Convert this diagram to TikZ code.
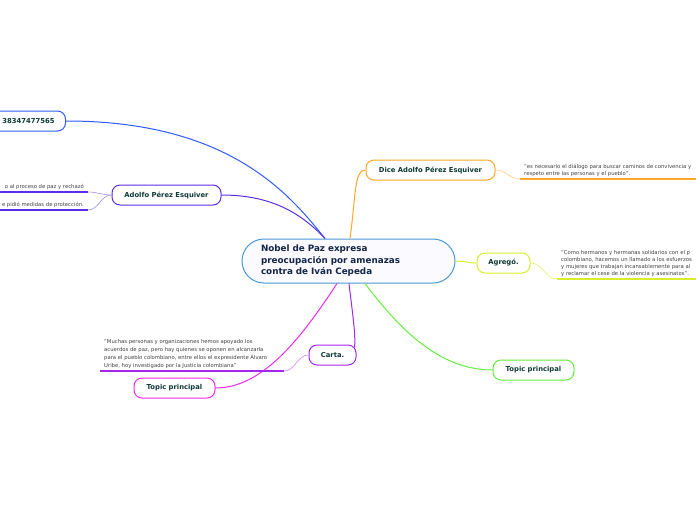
\documentclass[tikz,border=0pt]{standalone}
\usepackage{fontspec}
\setmainfont{DejaVu Sans}
\usetikzlibrary{calc}
\definecolor{azulCen}{HTML}{4A9AD8}
\definecolor{azulRama}{HTML}{2F5BFF}
\definecolor{violeta}{HTML}{5A2EE8}
\definecolor{naranja}{HTML}{FFA726}
\definecolor{limon}{HTML}{D8EE2A}
\definecolor{verde}{HTML}{62EE3C}
\definecolor{morado}{HTML}{A526EE}
\definecolor{magenta}{HTML}{EE2AEE}
\definecolor{TextoNodo}{HTML}{0E3A36}
\definecolor{TextoCen}{HTML}{15254A}

\begin{document}
\begin{tikzpicture}[x=1pt,y=-1pt,
        topic/.style={draw,rounded corners=8pt,line width=1.0pt,fill=white,
          minimum height=20pt,inner sep=0pt,text=TextoNodo,
          font=\fontsize{6.8}{8}\selectfont\bfseries},
        rama/.style={line width=1.0pt},
        sub/.style={line width=0.6pt},
        linea/.style={line width=1.6pt},
        cita/.style={font=\fontsize{5.3}{7}\selectfont,text=black!75,
          align=left,inner sep=0pt,anchor=south west}
      ]
        \useasboundingbox (0,0) rectangle (696,520);

        % Nodo central
        \node[draw=azulCen,line width=1.0pt,fill=blue!2,rounded corners=22pt,
          minimum width=213pt,minimum height=44pt,text width=175pt,align=left,
          text=TextoCen,font=\fontsize{8.8}{11.5}\selectfont\bfseries]
          (cen) at (348.5,261)
          {Nobel de Paz expresa\\preocupación por amenazas\\contra de Iván Cepeda};

        % Ramas
        \node[topic,draw=azulRama,anchor=east,inner xsep=11pt] (tel) at (66,121)
          {38347477565};
        \node[topic,draw=violeta,minimum width=109pt] (ape) at (166.5,195)
          {Adolfo Pérez Esquiver};
        \node[topic,draw=naranja,minimum width=129pt] (dice) at (430.5,170)
          {Dice Adolfo Pérez Esquiver};
        \node[topic,draw=limon,minimum width=53pt] (agr) at (503.5,263)
          {Agregó.};
        \node[topic,draw=verde,minimum width=81pt] (tpv) at (533.5,370)
          {Topic principal};
        \node[topic,draw=morado,minimum width=47pt] (carta) at (332.5,355)
          {Carta.};
        \node[topic,draw=magenta,minimum width=81pt] (tpm) at (174.5,388)
          {Topic principal};

        \draw[rama,azulRama] (tel.east) .. controls (230,121) and (290,195)
          .. ($(cen.north)+(-23.5,0)$);
        \draw[rama,violeta] (ape.east) .. controls (270,195) and (300,212)
          .. ($(cen.north)+(-23.5,0)$);
        \draw[rama,naranja] ($(cen.north)+(1.5,0)$) .. controls (356,195) and (354,170)
          .. (dice.west);
        \draw[rama,limon] (cen.east) .. controls (465,261) and (467,263) .. (agr.west);
        \draw[rama,verde] ($(cen.south)+(16.5,0)$) .. controls (400,330) and (440,370)
          .. (tpv.west);
        \draw[rama,morado] ($(cen.south)+(0.5,0)$) .. controls (352,310) and (356,335)
          .. ($(carta.north east)+(-2,3)$);
        \draw[rama,magenta] ($(cen.south)+(-11.5,0)$) .. controls (300,340) and (262,388)
          .. (tpm.east);

        % Citas y subtemas
        \coordinate (a1) at (88,192);
        \coordinate (a2) at (88,210);
        \draw[linea,violeta] (0,192) -- (a1);
        \draw[linea,violeta] (0,210) -- (a2);
        \draw[sub,violeta!55] (ape.west) to[out=180,in=0] (a1);
        \draw[sub,violeta!55] (ape.west) to[out=180,in=0] (a2);
        \node[cita,anchor=south east] (a1t) at (84,189.5) {o al proceso de paz y rechazó};
        \node[cita,anchor=south east] (a2t) at (84,207.5) {e pidió medidas de protección.};

        \coordinate (d1) at (520,179);
        \draw[linea,naranja] (d1) -- (696,179);
        \draw[sub,naranja!55] (dice.east) to[out=0,in=180] (d1);
        \node[cita] (d1t) at (524,176.5)
          {"es necesario el diálogo para buscar caminos de convivencia y\\
          respeto entre las personas y el pueblo".};

        \coordinate (g1) at (557,279);
        \draw[linea,limon] (g1) -- (696,279);
        \draw[sub,limon!70] (agr.east) to[out=0,in=180] (g1);
        \node[cita] (g1t) at (561,276.5)
          {"Como hermanos y hermanas solidarios con el p\\
          colombiano, hacemos un llamado a los esfuerzos\\
          y mujeres que trabajan incansablemente para al\\
          y reclamar el cese de la violencia y asesinatos".};

        \coordinate (c1) at (284,371);
        \draw[linea,morado] (100,371) -- (c1);
        \draw[sub,morado!55] (carta.west) to[out=180,in=0] (c1);
        \node[cita,font=\fontsize{5.3}{8}\selectfont] (c1t) at (104,369)
          {"Muchas personas y organizaciones hemos apoyado los\\
          acuerdos de paz, pero hay quienes se oponen en alcanzarla\\
          para el pueblo colombiano, entre ellos el expresidente Álvaro\\
          Uribe, hoy investigado por la Justicia colombiana"};
      \end{tikzpicture}
\end{document}
